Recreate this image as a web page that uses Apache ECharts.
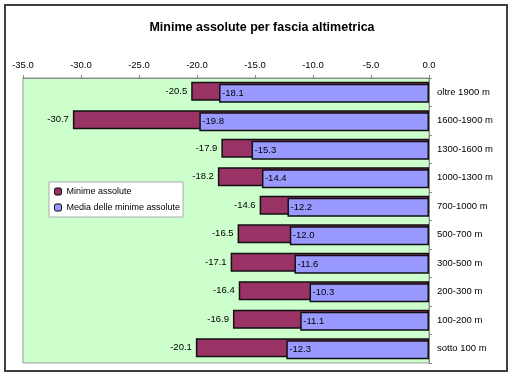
<!DOCTYPE html>
<html><head><meta charset="utf-8">
<script src="https://cdn.jsdelivr.net/npm/echarts@6/dist/echarts.min.js"></script>
<style>html,body{margin:0;padding:0;background:#fff}#c{width:514px;height:378px}</style>
</head><body><div id="c"></div>
<script>
var categories = ['oltre 1900 m','1600-1900 m','1300-1600 m','1000-1300 m','700-1000 m','500-700 m','300-500 m','200-300 m','100-200 m','sotto 100 m'];
var minimeAssolute = [-20.5,-30.7,-17.9,-18.2,-14.6,-16.5,-17.1,-16.4,-16.9,-20.1];
var mediaMinime = [-18.1,-19.8,-15.3,-14.4,-12.2,-12.0,-11.6,-10.3,-11.1,-12.3];
var seriesNames = ['Minime assolute','Media delle minime assolute'];
var FONT = 'Liberation Sans';
var chart = echarts.init(document.getElementById('c'), null, {renderer:'canvas'});
chart.setOption({
  animation:false,
  textStyle:{fontFamily:FONT},
  title:{text:'Minime assolute per fascia altimetrica',left:257,textAlign:'center',top:16,
    textStyle:{fontFamily:FONT,fontSize:12.5,fontWeight:'bold',color:'#000'}},
  graphic:[{type:'rect',shape:{x:5,y:5,width:502,height:366},style:{fill:'none',stroke:'#404040',lineWidth:2},z:100}],
  legend:{left:49,top:182,orient:'vertical',itemWidth:7,itemHeight:7,itemGap:7,
    backgroundColor:'#fff',borderColor:'#aaa',borderWidth:1,padding:[5,3,5,5],
    textStyle:{fontFamily:FONT,fontSize:9,color:'#000'},
    data:[{name:seriesNames[0],itemStyle:{borderColor:'#000',borderWidth:1}},{name:seriesNames[1],itemStyle:{borderColor:'#000',borderWidth:1}}]},
  grid:{left:23,top:78,width:406,height:285,show:true,backgroundColor:'#CCFFCC',borderColor:'#999',borderWidth:1,containLabel:false},
  xAxis:{type:'value',position:'top',min:-35,max:0,interval:5,
    axisLine:{show:true,lineStyle:{color:'#888'}},
    axisTick:{show:true,length:3,lineStyle:{color:'#888'}},
    splitLine:{show:false},
    axisLabel:{fontFamily:FONT,fontSize:9.5,color:'#000',margin:8,formatter:function(v){return v.toFixed(1);}}},
  yAxis:{type:'category',position:'right',inverse:true,data:categories,
    axisLine:{show:true,lineStyle:{color:'#888'}},
    axisTick:{show:true,length:3,lineStyle:{color:'#888'}},
    axisLabel:{fontFamily:FONT,fontSize:9.5,color:'#000',margin:8}},
  series:[
    {name:seriesNames[0],type:'bar',data:minimeAssolute,barWidth:19,barGap:'-89%',
      itemStyle:{color:'#993366',borderColor:'#111',borderWidth:1.5},
      label:{show:true,position:'left',distance:4,fontFamily:FONT,fontSize:9.5,color:'#000',formatter:function(p){return p.value.toFixed(1);}}},
    {name:seriesNames[1],type:'bar',data:mediaMinime,barWidth:19,
      itemStyle:{color:'#9999FF',borderColor:'#111',borderWidth:1.5},
      label:{show:true,position:'insideLeft',distance:3,fontFamily:FONT,fontSize:9.5,color:'#000',formatter:function(p){return p.value.toFixed(1);}}}
  ]
});
</script></body></html>
